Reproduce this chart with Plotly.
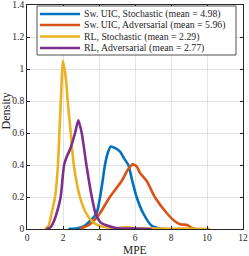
import plotly.graph_objects as go

# Data
names = ["Sw. UIC, Stochastic (mean = 4.98)", "Sw. UIC, Adversarial (mean = 5.96)",
         "RL, Stochastic (mean = 2.29)", "RL, Adversarial (mean = 2.77)"]
colors = ["#0072BD", "#D95319", "#EDB120", "#7E2F8E"]

blue_x = [2.3, 2.8, 3.2, 3.5, 3.87, 4.06, 4.2, 4.33, 4.5, 4.65, 4.9, 5.17, 5.4, 5.63, 5.85, 6.09, 6.45, 6.93, 7.3, 7.6]
blue_y = [0, 0.005, 0.02, 0.05, 0.1, 0.2, 0.3, 0.4, 0.48, 0.515, 0.505, 0.483, 0.44, 0.4, 0.3, 0.2, 0.1, 0.02, 0.005, 0]

orange_x = [2.94, 3.5, 4.06, 4.6, 5.26, 5.6, 5.87, 6.1, 6.28, 6.65, 7.1, 7.76, 8.2, 8.5, 8.9, 9.1, 9.4]
orange_y = [0, 0.03, 0.1, 0.2, 0.3, 0.37, 0.404, 0.39, 0.35, 0.3, 0.2, 0.1, 0.05, 0.03, 0.025, 0.01, 0]

yellow_x = [1.0, 1.2, 1.37, 1.56, 1.72, 1.8, 1.9, 1.99, 2.15, 2.3, 2.43, 2.6, 2.94, 3.28, 3.6, 4.0, 4.5, 5.0, 5.5, 6.0, 7.0, 8.0, 9.0, 10.17]
yellow_y = [0, 0.02, 0.1, 0.2, 0.4, 0.6, 0.85, 1.052, 0.95, 0.75, 0.6, 0.4, 0.2, 0.1, 0.05, 0.02, 0.01, 0.005, 0.012, 0.005, 0.003, 0.002, 0.003, 0]

purple_x = [1.09, 1.3, 1.5, 1.7, 1.87, 2.06, 2.2, 2.4, 2.67, 2.85, 3.04, 3.3, 3.6, 3.8, 4.1, 4.5, 5.0, 6.0, 6.93]
purple_y = [0, 0.01, 0.05, 0.12, 0.2, 0.4, 0.45, 0.5, 0.6, 0.68, 0.6, 0.4, 0.2, 0.1, 0.04, 0.02, 0.005, 0.003, 0]

xs = [blue_x, orange_x, yellow_x, purple_x]
ys = [blue_y, orange_y, yellow_y, purple_y]

xticks = [0, 2, 4, 6, 8, 10, 12]
yticks = [0, 0.2, 0.4, 0.6, 0.8, 1, 1.2, 1.4]

fig = go.Figure()
for n, c, x, y in zip(names, colors, xs, ys):
    fig.add_trace(go.Scatter(x=x, y=y, mode="lines", name=n, showlegend=False,
                             line=dict(color=c, width=2.6, shape="spline", smoothing=0.6)))

font = "Liberation Serif, Times New Roman, serif"
ink = "#262626"
axis_common = dict(showline=True, linecolor=ink, linewidth=0.8, mirror="ticks",
                   ticks="inside", ticklen=3, tickcolor=ink, automargin=False,
                   showgrid=True, gridcolor="#e3e3e3", gridwidth=0.6, zeroline=False,
                   tickfont=dict(family=font, size=9.5, color=ink))

# Legend drawn in paper coordinates (MATLAB-style compact box)
L = 27.0; R = 243.0; T = 5.0; B = 229.0
W = R - L; H = B - T
def px(xp): return (xp - L) / W
def py(yp): return (B - yp) / H

shapes = [dict(type="rect", xref="paper", yref="paper",
               x0=px(37), x1=px(236), y0=py(55), y1=py(6),
               line=dict(color=ink, width=0.8), fillcolor="white", layer="above")]
annotations = []
rows = [14, 25, 36.5, 48]
for n, c, r in zip(names, colors, rows):
    shapes.append(dict(type="line", xref="paper", yref="paper",
                       x0=px(40), x1=px(80), y0=py(r), y1=py(r),
                       line=dict(color=c, width=2.6), layer="above"))
    annotations.append(dict(xref="paper", yref="paper", x=px(82), y=py(r),
                            xanchor="left", yanchor="middle", showarrow=False,
                            text=n, font=dict(family=font, size=9.8, color=ink)))

annotations.append(dict(xref="paper", yref="paper", x=px(135), y=py(250),
                        xanchor="center", yanchor="middle", showarrow=False,
                        text="MPE", font=dict(family=font, size=11.5, color=ink)))
annotations.append(dict(xref="paper", yref="paper", x=px(5.5), y=py(111),
                        xanchor="center", yanchor="middle", showarrow=False, textangle=-90,
                        text="Density", font=dict(family=font, size=12, color=ink)))

fig.update_layout(
    width=249, height=256,
    margin=dict(l=27, r=6, t=5, b=27, autoexpand=False),
    paper_bgcolor="white", plot_bgcolor="white",
    font=dict(family=font, size=9.5, color=ink),
    xaxis=dict(range=[0, 12], tickvals=xticks, ticktext=[str(t) for t in xticks], **axis_common),
    yaxis=dict(range=[0, 1.4], tickvals=yticks, ticktext=[f"{t:g}" for t in yticks], **axis_common),
    shapes=shapes, annotations=annotations,
    showlegend=False,
)

fig.write_html("out.html", config={"displayModeBar": False},
               post_script="document.body.style.margin='0';document.body.style.overflow='hidden';")
